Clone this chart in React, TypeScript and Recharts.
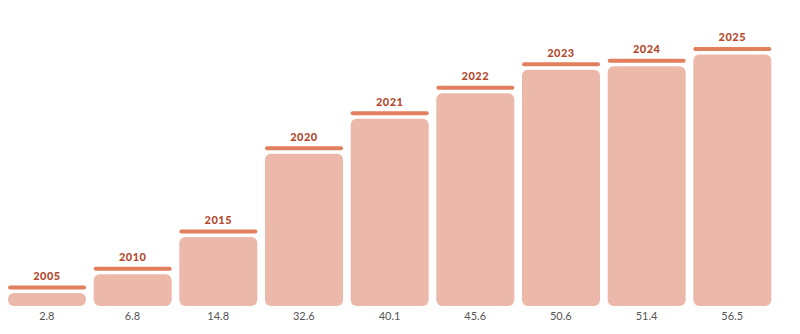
import { Bar, BarChart, LabelList, XAxis, YAxis } from 'recharts';

const years = ['2005', '2010', '2015', '2020', '2021', '2022', '2023', '2024', '2025'];
// values printed under each bar
const valueLabels = ['2.8', '6.8', '14.8', '32.6', '40.1', '45.6', '50.6', '51.4', '56.5'];
// bar heights as drawn (last bar is drawn shorter than its printed value)
const barHeights = [2.8, 6.8, 14.8, 32.6, 40.1, 45.6, 50.6, 51.4, 53.9];

const data = years.map((year, i) => ({ year, label: valueLabels[i], height: barHeights[i] }));

const renderTop = (props: any) => {
  const { x, y, width, value } = props;
  return (
    <g>
      <rect x={x} y={y - 7.5} width={width} height={4} rx={2} fill="#E27F5E" />
      <text
        x={x + width / 2}
        y={y - 13}
        textAnchor="middle"
        fontFamily="Lato"
        fontWeight={900}
        fontSize={11}
        letterSpacing={0.5}
        fill="#B34A2E"
      >
        {value}
      </text>
    </g>
  );
};

export default function App() {
  return (
    <div style={{ position: 'absolute', left: 0, top: 0 }}>
      <BarChart
        width={800}
        height={334}
        data={data}
        margin={{ top: 26, right: 25, bottom: 0, left: 4 }}
        barCategoryGap={4}
      >
        <XAxis
          dataKey="label"
          axisLine={false}
          tickLine={false}
          tickMargin={0}
          height={28}
          interval={0}
          tick={{ fontSize: 11, fill: '#555', fontFamily: 'Lato' }}
        />
        <YAxis hide domain={[0, 60]} />
        <Bar dataKey="height" fill="#EBB8AA" radius={[6, 6, 6, 6]} isAnimationActive={false}>
          <LabelList dataKey="year" content={renderTop} />
        </Bar>
      </BarChart>
    </div>
  );
}
